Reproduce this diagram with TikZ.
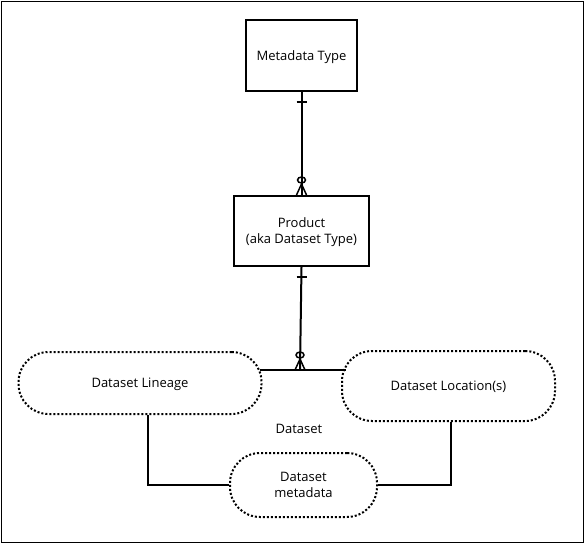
\documentclass[tikz,border=0pt]{standalone}
\usepackage{fontspec}
\setmainfont{Open Sans}
\usetikzlibrary{positioning, calc}

\begin{document}
\begin{tikzpicture}[
        x=1pt, y=-1pt,
        font=\fontsize{13}{16}\selectfont,
        entity/.style={rectangle, draw, line width=2pt, text depth=0pt,
                       inner sep=0pt, align=center},
        attrib/.style={rectangle, rounded corners=30pt, draw, text depth=0pt,
                       line width=2pt, dash pattern=on 2pt off 2pt,
                       inner sep=0pt, align=center},
        link/.style={line width=2pt},
    ]
        \useasboundingbox (0,0) rectangle (586,544);
        \draw[line width=1.5pt] (1.5,1.5) rectangle (583.5,542.5);

        \node[entity, minimum width=111pt, minimum height=71pt] (meta) at (301.5,55.5) {Metadata Type};
        \node[entity, minimum width=135pt, minimum height=70pt, below=103pt of meta] (prod) {Product\\(aka Dataset Type)};

        \node[attrib, minimum width=243pt, minimum height=62pt] (lineage) at (140,383) {Dataset Lineage};
        \node[attrib, minimum width=213pt, minimum height=70pt] (location) at (448.5,386) {Dataset Location(s)};
        \node[attrib, minimum width=147pt, minimum height=64pt] (dsmeta) at (303.5,485) {Dataset\\metadata};
        \node (dataset) at (299,429) {Dataset};
        \coordinate (dstop) at (300,370);

        % relationship lines
        \draw[link] (meta.south) -- (prod.north);
        \draw[link] (prod.south) -- (dstop);
        \draw[link] (259.5,370) -- (dstop) -- (346,370);

        % one
        \draw[link] ($(meta.south)+(-5,10)$) -- ++(10,0);
        \draw[link] ($(prod.south)+(-5,10)$) -- ++(10,0);
        % zero or many
        \draw[line width=1.5pt] ($(prod.north)+(0,-15)$) ellipse (4 and 3);
        \draw[line width=1.5pt] ($(prod.north)+(-5,0)$) -- ++(5,-11) -- ++(5,11);
        \draw[line width=1.5pt] ($(dstop)+(0,-15)$) ellipse (4 and 3);
        \draw[line width=1.5pt] ($(dstop)+(-5,0)$) -- ++(5,-11) -- ++(5,11);

        % attribute links
        \draw[link] (lineage.south -| 148,0) |- (dsmeta.west);
        \draw[link] (location.south -| 451,0) |- (dsmeta.east);
    \end{tikzpicture}
\end{document}
